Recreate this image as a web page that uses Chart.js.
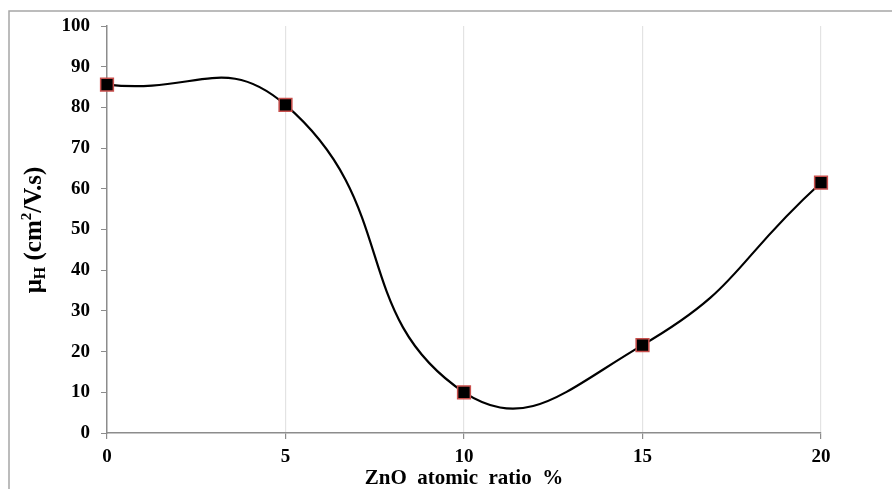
<!DOCTYPE html>
<html>
<head>
<meta charset="utf-8">
<script src="https://cdn.jsdelivr.net/npm/chart.js@4.4.0/dist/chart.umd.min.js"></script>
<style>
  html, body { margin: 0; padding: 0; background: #fff; }
  #wrap { width: 892px; height: 489px; }
</style>
</head>
<body>
<div id="wrap"><canvas id="c" width="892" height="489"></canvas></div>
<script>
const xValues = [0, 5, 10, 15, 20];
const muValues = [85.6, 80.6, 10.0, 21.6, 61.5];
const xTicks = [0, 5, 10, 15, 20];
const yTicks = [0, 10, 20, 30, 40, 50, 60, 70, 80, 90, 100];
const xTitle = 'ZnO  atomic  ratio  %';

const FONT = '"Liberation Serif", "Times New Roman", serif';

const framePlugin = {
  id: 'framePlugin',
  afterDraw(chart) {
    const ctx = chart.ctx;
    ctx.save();
    // outer frame
    ctx.strokeStyle = '#a6a6a6';
    ctx.lineWidth = 1.5;
    ctx.strokeRect(9, 11, 900, 500);
    // x title
    ctx.fillStyle = '#000';
    ctx.font = 'bold 21px ' + FONT;
    ctx.textAlign = 'center';
    ctx.textBaseline = 'alphabetic';
    const ca = chart.chartArea;
    ctx.fillText(xTitle, (ca.left + ca.right) / 2, 484);
    // y title with sub/superscript
    ctx.translate(41, 230);
    ctx.rotate(-Math.PI / 2);
    const parts = [
      { t: 'μ', size: 25, dy: 0 },
      { t: 'H', size: 16, dy: 4 },
      { t: ' (cm', size: 25, dy: 0 },
      { t: '2', size: 15, dy: -10 },
      { t: '/V.s)', size: 25, dy: 0 }
    ];
    let total = 0;
    parts.forEach(p => { ctx.font = 'bold ' + p.size + 'px ' + FONT; p.w = ctx.measureText(p.t).width; total += p.w; });
    let x = -total / 2;
    ctx.textAlign = 'left';
    parts.forEach(p => {
      ctx.font = 'bold ' + p.size + 'px ' + FONT;
      ctx.fillText(p.t, x, p.dy);
      x += p.w;
    });
    ctx.restore();
  }
};

new Chart(document.getElementById('c'), {
  type: 'scatter',
  data: {
    datasets: [{
      data: xValues.map((x, i) => ({ x: x, y: muValues[i] })),
      showLine: true,
      borderColor: '#000',
      borderWidth: 2.2,
      tension: 0.5,
      pointStyle: 'rect',
      pointRadius: 9,
      pointHoverRadius: 9,
      pointBackgroundColor: '#000',
      pointBorderColor: '#c9504d',
      pointBorderWidth: 1.5,
      clip: false
    }]
  },
  options: {
    responsive: false,
    animation: false,
    devicePixelRatio: 1,
    layout: { padding: { left: 0, top: 26, right: 71, bottom: 0 } },
    plugins: { legend: { display: false }, tooltip: { enabled: false } },
    scales: {
      x: {
        type: 'linear',
        min: 0, max: 20,
        afterBuildTicks(scale) { scale.ticks = xTicks.map(v => ({ value: v })); },
        afterFit(scale) { scale.height = 56; },
        ticks: {
          color: '#000',
          font: { family: FONT, size: 19, weight: 'bold' },
          padding: 7,
          maxRotation: 0
        },
        grid: {
          color: ctx => (ctx.tick && ctx.tick.value === 0) ? 'rgba(0,0,0,0)' : '#e3e3e3',
          lineWidth: 1.2,
          tickColor: '#8c8c8c',
          tickLength: 6,
          drawOnChartArea: true
        },
        border: { color: '#8c8c8c', width: 1.5 }
      },
      y: {
        type: 'linear',
        min: 0, max: 100,
        afterBuildTicks(scale) { scale.ticks = yTicks.map(v => ({ value: v })); },
        afterFit(scale) { scale.width = 107; },
        ticks: {
          color: '#000',
          font: { family: FONT, size: 19, weight: 'bold' },
          padding: 11
        },
        grid: {
          drawOnChartArea: false,
          tickColor: '#8c8c8c',
          tickLength: 6
        },
        border: { color: '#8c8c8c', width: 1.5 }
      }
    }
  },
  plugins: [framePlugin]
});
</script>
</body>
</html>
